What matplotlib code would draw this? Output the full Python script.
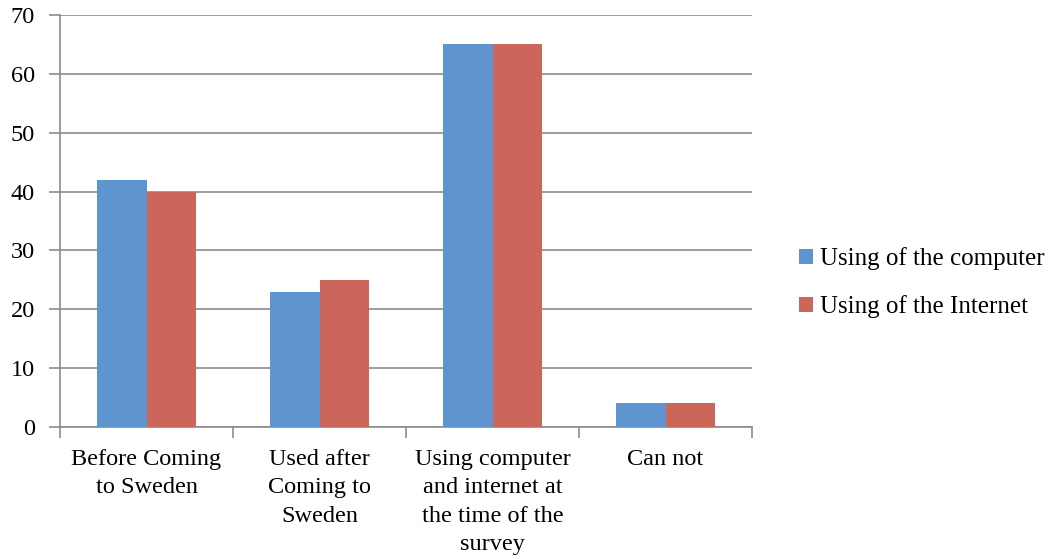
import numpy as np
import matplotlib.pyplot as plt

categories = ["Before Coming\nto Sweden", "Used after\nComing to\nSweden",
              "Using computer\nand internet at\nthe time of the\nsurvey", "Can not"]
computer = [42, 23, 65, 4]
internet = [40, 25, 65, 4]
series_names = ["Using of the computer", "Using of the Internet"]

plt.rcParams['font.family'] = ['Liberation Serif', 'DejaVu Serif']

fig = plt.figure(figsize=(10.49, 5.59), dpi=100)
ax = fig.add_axes([60 / 1049, 1 - 427 / 559, 692 / 1049, 412 / 559])

x = np.arange(len(categories))
w = 0.286
ax.bar(x - w / 2, computer, w, color='#5E94CF', label=series_names[0], zorder=3)
ax.bar(x + w / 2, internet, w, color='#CC665A', label=series_names[1], zorder=3)

ax.set_xlim(-0.5, len(categories) - 0.5)
ax.set_ylim(0, 70)
ax.set_yticks(range(0, 71, 10))
ax.yaxis.grid(True, color='#8c8c8c', lw=1.2, zorder=0)
ax.tick_params(axis='y', length=8, width=1.2, color='#8c8c8c', labelsize=17.5, pad=10)

# category ticks at the boundaries, labels centered
ax.set_xticks(np.arange(-0.5, len(categories), 1))
ax.set_xticklabels([])
ax.set_xticks(x, minor=True)
ax.set_xticklabels(categories, minor=True, fontsize=17.5, linespacing=1.45)
ax.tick_params(axis='x', which='major', length=8, width=1.2, color='#8c8c8c')
ax.tick_params(axis='x', which='minor', length=0, pad=16)

for s in ['top', 'right']:
    ax.spines[s].set_visible(False)
for s in ['left', 'bottom']:
    ax.spines[s].set_color('#8c8c8c')
    ax.spines[s].set_linewidth(1.2)

fig.legend(loc='center left', bbox_to_anchor=(799 / 1049, 1 - 283 / 559), frameon=False,
           fontsize=18, handlelength=0.55, handleheight=0.55, handletextpad=0.3,
           labelspacing=1.0, borderpad=0, borderaxespad=0)

fig.savefig('out.png', dpi=100)
